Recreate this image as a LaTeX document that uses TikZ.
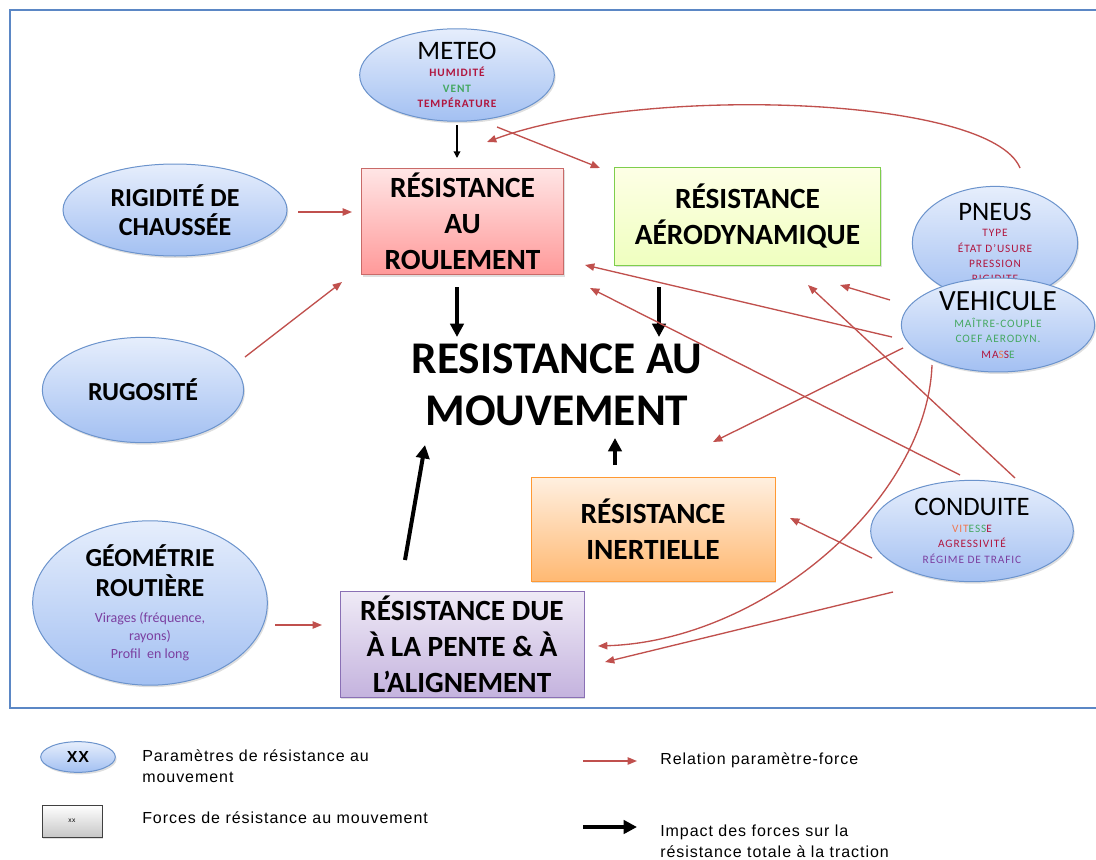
\documentclass[tikz,border=0pt]{standalone}
\usepackage{fontspec}
\setmainfont{Carlito}
\newfontfamily\subfont[LetterSpace=8]{Carlito}
\newfontfamily\legendfont[LetterSpace=6]{Liberation Sans}
\usetikzlibrary{shapes.geometric,arrows.meta,shadows}

\definecolor{frameblue}{HTML}{5B87C5}
\definecolor{relred}{HTML}{C0504D}
\definecolor{parmline}{HTML}{6B93CC}
\definecolor{parmtop}{HTML}{E6EEFC}
\definecolor{parmbot}{HTML}{A3C0F2}
\definecolor{pred}{HTML}{B0163F}
\definecolor{pgreen}{HTML}{45A862}
\definecolor{ppurple}{HTML}{7B3FA0}
\definecolor{porange}{HTML}{F07850}
\definecolor{pentetop}{HTML}{EFEAF6}
\definecolor{pentebot}{HTML}{C4B3DE}
\definecolor{penteline}{HTML}{8A70B5}

\newcommand{\ptitle}{\rmfamily\mdseries\fontsize{20}{22}\selectfont}
\newcommand{\gtitle}{\bfseries\fontsize{19.5}{22}\selectfont}
\newcommand{\psub}{\subfont\fontsize{8.5}{11.5}\selectfont}
\newcommand{\gsub}{\mdseries\fontsize{10.5}{13.5}\selectfont\color{ppurple}}
\newcommand{\ftitle}{\bfseries\fontsize{22}{27}\selectfont}

\begin{document}
\begin{tikzpicture}[x=0.75pt,y=-0.75pt,
  shd/.style={drop shadow={shadow xshift=1pt,shadow yshift=-1.5pt,opacity=0.25}},
  param/.style={ellipse,draw=parmline,line width=0.75pt,top color=parmtop,bottom color=parmbot,
    inner sep=0pt,align=center,font=\psub,shd},
  force/.style={rectangle,line width=0.75pt,inner sep=0pt,align=center,font=\ftitle,shd},
  rel/.style={draw=relred,line width=1pt,-{Triangle[length=7pt,width=5.5pt]}},
  impact/.style={line width=3pt,-{Triangle[length=10pt,width=10pt]}},
  legend/.style={anchor=west,align=left,inner sep=0pt,font=\legendfont\fontsize{12}{16}\selectfont}]
\useasboundingbox (0,0) rectangle (1096,860);
\draw[frameblue,line width=2.2pt] (10,10) rectangle (1120,708);

% parametres
\node[param,minimum width=146pt,minimum height=67.5pt] (meteo) at (457,75)
  {{\ptitle METEO}\\[1.5pt]\textcolor{pred}{\bfseries HUMIDITÉ}\\\textcolor{pgreen}{\bfseries VENT}\\\textcolor{pred}{\bfseries TEMPÉRATURE}};
\node[param,font=\gtitle,minimum width=168pt,minimum height=69pt] (rigid) at (175,210) {RIGIDITÉ DE\\CHAUSSÉE};
\node[param,font=\gtitle,minimum width=151pt,minimum height=79pt] (rug) at (143,390) {RUGOSITÉ};
\node[param,font=\gtitle,minimum width=176pt,minimum height=110pt] (geo) at (150,603)
  {GÉOMÉTRIE\\ROUTIÈRE\\[-2pt]{\gsub Virages (fréquence,}\\[-8.5pt]{\gsub rayons)}\\[-8.5pt]{\gsub Profil~ en long}};
\node[param,minimum width=124pt,minimum height=76pt] (pneus) at (995,243)
  {{\ptitle PNEUS}\\[1pt]\textcolor{pred}{TYPE}\\\textcolor{pred}{ÉTAT D’USURE}\\\textcolor{pred}{PRESSION}\\\textcolor{pred}{RIGIDITE}};
\node[param,minimum width=145pt,minimum height=67.5pt] (vehic) at (998,325)
  {{\ptitle\fontsize{22}{22}\selectfont VEHICULE}\\[1pt]\textcolor{pgreen}{MAÎTRE-COUPLE}\\\textcolor{pgreen}{COEF AERODYN.}\\\textcolor{pred}{MA}\textcolor{porange}{S}\textcolor{pred}{S}\textcolor{pgreen}{E}};
\node[param,minimum width=152pt,minimum height=76pt] (cond) at (972,531)
  {{\ptitle CONDUITE}\\[1pt]\textcolor{porange}{VIT}\textcolor{pgreen}{ESS}\textcolor{pred}{E}\\\textcolor{pred}{AGRESSIVITÉ}\\\textcolor{ppurple}{RÉGIME DE TRAFIC}};

% forces
\node[force,draw=relred!85,top color=red!10,bottom color=red!40,minimum width=151pt,minimum height=80pt] (roul) at (462.5,221.5) {RÉSISTANCE\\AU\\ROULEMENT};
\node[force,draw=green!45!olive!70,top color=green!6!yellow!10,bottom color=green!25!yellow!25,minimum width=199pt,minimum height=73pt] (aero) at (747.5,216.5) {RÉSISTANCE\\AÉRODYNAMIQUE};
\node[force,draw=orange!80,top color=orange!12,bottom color=orange!55,minimum width=183pt,minimum height=78pt] (inert) at (653,529) {RÉSISTANCE\\INERTIELLE};
\node[force,draw=penteline,top color=pentetop,bottom color=pentebot,minimum width=183pt,minimum height=79pt] (pente) at (462,644.5) {RÉSISTANCE DUE\\À LA PENTE \& À\\L’ALIGNEMENT};

\node[font=\bfseries\fontsize{34}{39}\selectfont,align=center,inner sep=0pt,minimum height=82.5pt] (mvt) at (557,385) {RESISTANCE AU\\MOUVEMENT};

% impacts
\draw[line width=1pt,-{Triangle[length=5pt,width=5pt]}] ([shift={(0,50)}]meteo.center) -- ([shift={(-5.5,-63.5)}]roul.center);
\draw[impact] ([shift={(-5.5,65.5)}]roul.center) -- ([shift={(-100,-48)}]mvt.center);
\draw[impact] ([shift={(-88.5,70.5)}]aero.center) -- ([shift={(102,-48)}]mvt.center);
\draw[impact] ([shift={(-38,-64)}]inert.center) -- ([shift={(58,53)}]mvt.center);
\draw[impact] ([shift={(-57,-84.5)}]pente.center) -- ([shift={(-132,60)}]mvt.center);

% relations
\draw[rel] ([shift={(40,52)}]meteo.center) -- ([shift={(-147.5,-48.5)}]aero.center);
\draw[rel] ([shift={(25,-75)}]pneus.center) .. controls +(-30,-73) and +(153,-57) .. ([shift={(24.5,-79.5)}]roul.center);
\draw[rel] ([shift={(123,2)}]rigid.center) -- ([shift={(-110.5,-9.5)}]roul.center);
\draw[rel] ([shift={(102,-33)}]rug.center) -- ([shift={(-120.5,60.5)}]roul.center);
\draw[rel] ([shift={(125,22)}]geo.center) -- ([shift={(-140,-19.5)}]pente.center);
\draw[rel] ([shift={(-106,12)}]vehic.center) -- ([shift={(122.5,43.5)}]roul.center);
\draw[rel] ([shift={(-12,-56)}]cond.center) -- ([shift={(127.5,66.5)}]roul.center);
\draw[rel] ([shift={(-108,-25)}]vehic.center) -- ([shift={(92.5,68.5)}]aero.center);
\draw[rel] ([shift={(43,-53)}]cond.center) -- ([shift={(60.5,68.5)}]aero.center);
\draw[rel] ([shift={(-95,23)}]vehic.center) -- ([shift={(60,-87)}]inert.center);
\draw[rel] ([shift={(-66,40)}]vehic.center) .. controls +(-5,135) and +(165,-5) .. ([shift={(136,1.5)}]pente.center);
\draw[rel] ([shift={(-100,27)}]cond.center) -- ([shift={(137,-11)}]inert.center);
\draw[rel] ([shift={(-79,61)}]cond.center) -- ([shift={(143,17.5)}]pente.center);

% legende
\node[param,font=\legendfont\bfseries\fontsize{12}{14}\selectfont,minimum width=56pt,minimum height=23pt] (lparam) at (78,757) {XX};
\node[force,draw=black!75,top color=white,bottom color=black!22,font=\legendfont\fontsize{5}{6}\selectfont,minimum width=45pt,minimum height=24pt] (lforce) at (72,821) {xx};
\node[legend] (tparam) at (142,766) {Paramètres de résistance au\\mouvement};
\node[legend] (tforce) at (142,818) {Forces de résistance au mouvement};
\node[legend] (trel) at (660,760) {Relation paramètre-force};
\node[legend] (timp) at (660,841) {Impact des forces sur la\\résistance totale à la traction};
\coordinate (lrel0) at (583,761);
\coordinate (lrel1) at (637,761);
\coordinate (limp0) at (583,827);
\coordinate (limp1) at (637,827);
\draw[rel] (lrel0) -- (lrel1);
\draw[impact] (limp0) -- (limp1);
\end{tikzpicture}
\end{document}
